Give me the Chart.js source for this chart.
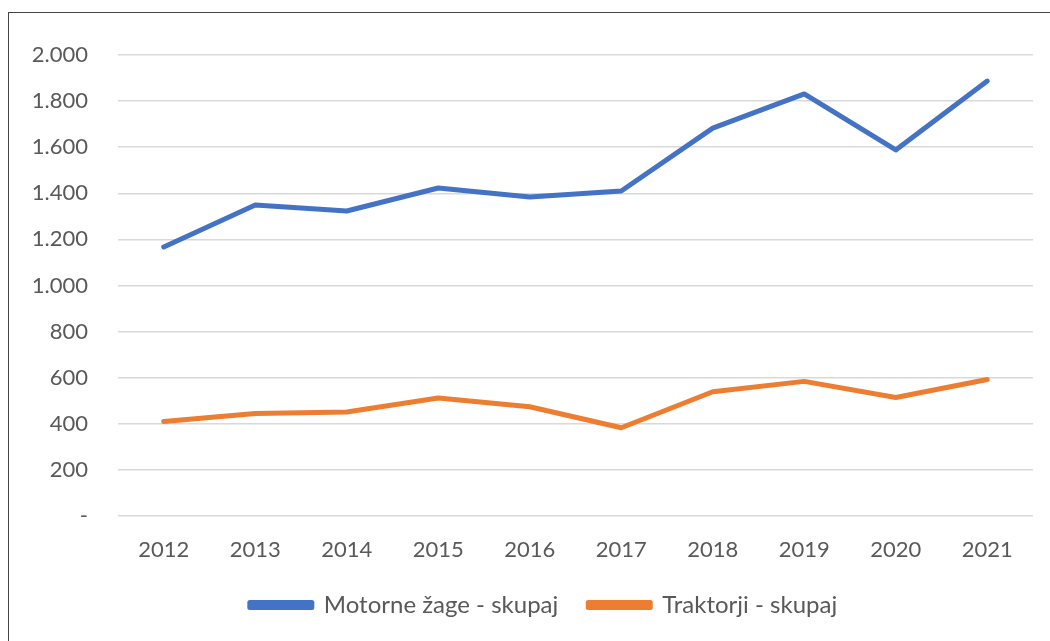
<!DOCTYPE html>
<html>
<head>
<meta charset="utf-8">
<script src="https://cdn.jsdelivr.net/npm/chart.js@4.4.1/dist/chart.umd.min.js"></script>
<style>
  html, body { margin: 0; padding: 0; background: #fff; width: 1050px; height: 641px; overflow: hidden; }
  #frame { position: absolute; left: 8px; top: 12px; width: 1100px; height: 700px; border-left: 1.5px solid #444; border-top: 1.5px solid #444; }
  #wrap { position: absolute; left: 0; top: 0; width: 1050px; height: 641px; }
</style>
</head>
<body>
<div id="frame"></div>
<div id="wrap"><canvas id="c" width="1050" height="641"></canvas></div>
<script>
const years = ['2012','2013','2014','2015','2016','2017','2018','2019','2020','2021'];
const motorneZage = [1167, 1349, 1323, 1423, 1384, 1410, 1683, 1831, 1588, 1887];
const traktorji = [410, 445, 451, 512, 474, 383, 539, 584, 514, 592];
const seriesNames = ['Motorne žage - skupaj', 'Traktorji - skupaj'];
const yTicks = [0, 200, 400, 600, 800, 1000, 1200, 1400, 1600, 1800, 2000];

const fmt = v => v === 0 ? '-' : v.toLocaleString('de-DE');
const textColor = '#595959';
const fontFamily = 'Lato, "Open Sans", sans-serif';

// shift the legend block to the right, as in the reference
const legendShift = {
  id: 'legendShift',
  afterLayout(chart) {
    const lg = chart.legend;
    if (lg) { lg.left += 27; lg.right += 27; }
  }
};

new Chart(document.getElementById('c'), {
  type: 'line',
  data: {
    labels: years,
    datasets: [
      { label: seriesNames[0], data: motorneZage, borderColor: '#4472C4', backgroundColor: '#4472C4', borderWidth: 5, pointRadius: 0, tension: 0, borderCapStyle: 'round', borderJoinStyle: 'round' },
      { label: seriesNames[1], data: traktorji, borderColor: '#ED7D31', backgroundColor: '#ED7D31', borderWidth: 5, pointRadius: 0, tension: 0, borderCapStyle: 'round', borderJoinStyle: 'round' }
    ]
  },
  plugins: [legendShift],
  options: {
    responsive: false,
    animation: false,
    events: [],
    layout: { padding: { top: 55, right: 17, bottom: 14, left: 0 } },
    plugins: {
      tooltip: { enabled: false },
      legend: {
        position: 'bottom',
        labels: {
          boxWidth: 62, boxHeight: 5, padding: 30,
          color: textColor,
          font: { family: fontFamily, size: 24 }
        }
      }
    },
    scales: {
      x: {
        offset: true,
        grid: { display: false },
        border: { display: false },
        ticks: { color: textColor, font: { family: fontFamily, size: 22 }, padding: 13, maxRotation: 0 },
        afterFit: s => { s.height = 47; }
      },
      y: {
        min: 0, max: 2000,
        afterBuildTicks: s => { s.ticks = yTicks.map(v => ({ value: v })); },
        grid: { color: '#d9d9d9', lineWidth: 1.5, drawTicks: false },
        border: { display: false },
        ticks: { color: textColor, font: { family: fontFamily, size: 22 }, padding: 30, callback: v => fmt(v) },
        afterFit: s => { s.width = 118; }
      }
    }
  }
});
</script>
</body>
</html>
